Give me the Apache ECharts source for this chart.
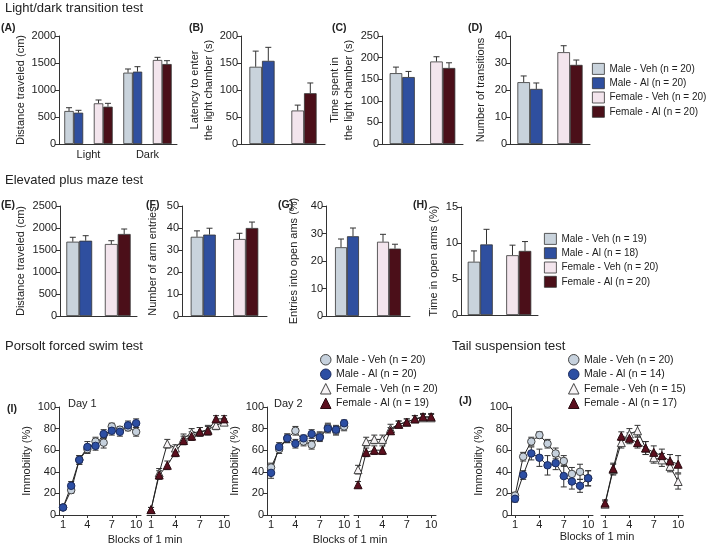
<!DOCTYPE html>
<html><head><meta charset="utf-8">
<script src="https://cdn.jsdelivr.net/npm/echarts@6/dist/echarts.min.js"></script>
<style>html,body{margin:0;padding:0;background:#fff}#c{width:709px;height:547px}</style>
</head><body><div id="c"></div><script>
const FONT = '"Liberation Sans", Arial, Helvetica, sans-serif';

// ---------- legend names ----------
const namesLD  = ['Male - Veh (n = 20)', 'Male - Al (n = 20)', 'Female - Veh (n = 20)', 'Female - Al (n = 20)'];
const namesEPM = ['Male - Veh (n = 19)', 'Male - Al (n = 18)', 'Female - Veh (n = 20)', 'Female - Al (n = 20)'];
const namesFST = ['Male - Veh (n = 20)', 'Male - Al (n = 20)', 'Female - Veh (n = 20)', 'Female - Al (n = 19)'];
const namesTST = ['Male - Veh (n = 20)', 'Male - Al (n = 14)', 'Female - Veh (n = 15)', 'Female - Al (n = 17)'];

// ---------- bar data: order = Male-Veh, Male-Al, Female-Veh, Female-Al ----------
const groupsA = ['Light', 'Dark'];
const A_light = [611, 580, 753, 691];
const A_lightErr = [61, 44, 62, 62];
const A_dark = [1321, 1340, 1556, 1481];
const A_darkErr = [68, 92, 49, 62];
const B_vals = [143, 154, 62, 94];
const B_err = [29, 25, 10, 19];
const C_vals = [164, 155, 191, 176];
const C_err = [14, 13, 11, 12];
const D_vals = [22.9, 20.4, 34.0, 29.3];
const D_err = [2.3, 2.2, 2.4, 1.8];
const E_vals = [1689, 1711, 1636, 1864];
const E_err = [100, 114, 75, 113];
const F_vals = [36, 37, 35, 40];
const F_err = [2.7, 2.9, 2.6, 2.7];
const G_vals = [25, 29, 27, 24.5];
const G_err = [3, 3, 2.7, 1.6];
const H_vals = [7.4, 9.8, 8.3, 8.9];
const H_err = [1.5, 2.1, 1.4, 1.3];

// ---------- line data ----------
const blocks = [1, 2, 3, 4, 5, 6, 7, 8, 9, 10];
const blockTicks = [1, 4, 7, 10];
const FST1_maleVeh = [7, 23, 51, 61, 68, 67, 82, 79, 81, 77];
const FST1_maleVehErr = [2, 3, 4, 4, 4, 5, 3, 3, 3, 4];
const FST1_maleAl = [7, 27, 51, 63, 64, 75, 78, 77, 83, 85];
const FST1_maleAlErr = [2, 4, 4, 5, 4, 4, 4, 4, 4, 4];
const FST1_femVeh = [5, 39, 66, 62, 71, 76, 77, 79, 83, 86];
const FST1_femVehErr = [2, 4, 4, 3, 4, 4, 4, 4, 4, 3];
const FST1_femAl = [5, 37, 46, 58, 69, 73, 77, 78, 89, 89];
const FST1_femAlErr = [2, 4, 4, 4, 4, 4, 4, 4, 3, 3];
const FST2_maleVeh = [44, 61, 71, 78, 68, 65, 73, 81, 78, 82];
const FST2_maleVehErr = [4, 4, 4, 4, 4, 4, 4, 4, 4, 4];
const FST2_maleAl = [39, 63, 71, 66, 71, 75, 72, 80, 79, 85];
const FST2_maleAlErr = [5, 4, 4, 4, 3, 4, 4, 4, 4, 3];
const FST2_femVeh = [42, 68, 70, 70, 80, 84, 86, 89, 90, 90];
const FST2_femVehErr = [4, 4, 4, 4, 4, 3, 3, 3, 3, 3];
const FST2_femAl = [28, 58, 60, 60, 78, 84, 86, 89, 91, 91];
const FST2_femAlErr = [3, 4, 4, 4, 3, 3, 3, 3, 3, 3];
const TST_maleVeh = [18, 54, 68, 74, 66, 57, 50, 38, 40, 34];
const TST_maleVehErr = [3, 4, 4, 3, 4, 5, 5, 6, 7, 7];
const TST_maleAl = [15, 37, 57, 53, 46, 48, 36, 31, 27, 34];
const TST_maleAlErr = [3, 4, 6, 8, 9, 6, 10, 7, 6, 7];
const TST_femVeh = [10, 42, 67, 75, 78, 62, 53, 51, 45, 31];
const TST_femVehErr = [3, 5, 5, 5, 5, 6, 5, 6, 5, 7];
const TST_femAl = [11, 43, 73, 71, 67, 62, 58, 55, 50, 47];
const TST_femAlErr = [3, 5, 4, 5, 5, 6, 6, 6, 6, 8];

// ---------- styles ----------
const barColors = ['#c9d3dc', '#2f4f9f', '#f3e5ed', '#4b0f19'];
const lineSty = [
  {symbol: 'circle', size: 7.5, color: '#c6d1dd', border: '#444'},
  {symbol: 'circle', size: 7.5, color: '#2c4ea3', border: '#1b2b5e'},
  {symbol: 'triangle', size: 8, color: '#f7f3f5', border: '#444'},
  {symbol: 'triangle', size: 8, color: '#5b0f1e', border: '#2a0a10'}
];
const AX = '#333', TXT = '#222';

const grids = [], xAxes = [], yAxes = [], series = [];

function yAxisCfg(gi, max, interval, name, nameGap, show) {
  return {
    type: 'value', gridIndex: gi, min: 0, max: max, interval: interval, show: show !== false,
    name: name, nameLocation: 'middle', nameGap: nameGap, nameRotate: 90,
    nameTextStyle: {fontSize: 11, color: TXT, fontFamily: FONT, lineHeight: 14},
    axisLine: {show: true, lineStyle: {color: AX, width: 1}},
    axisTick: {show: true, length: 4, lineStyle: {color: AX}},
    axisLabel: {fontSize: 11, color: TXT, fontFamily: FONT, margin: 3, formatter: v => String(v)},
    splitLine: {show: false}
  };
}

function barErr(slot, frac) {
  return function (params, api) {
    const x = api.value(0), y = api.value(1), e = api.value(2);
    const p = api.coord([x, y]);
    const t = api.coord([x, y + e]);
    const band = api.size([1, 0])[0];
    const cx = p[0] + slot * band * frac / 4;
    const cap = 3;
    const st = {stroke: '#333', lineWidth: 1};
    return {type: 'group', children: [
      {type: 'line', shape: {x1: cx, y1: p[1], x2: cx, y2: t[1]}, style: st},
      {type: 'line', shape: {x1: cx - cap, y1: t[1], x2: cx + cap, y2: t[1]}, style: st}
    ]};
  };
}

function barPanel(o) {
  const gi = grids.length;
  grids.push({left: o.left, top: o.top, width: o.width, height: o.height, outerBoundsMode: 'none'});
  const nC = o.vals.length;
  const cats = [];
  for (let c = 0; c < nC; c++) cats.push('M' + c, 'F' + c);
  xAxes.push({type: 'category', gridIndex: gi, data: cats, position: 'bottom',
    axisLine: {show: true, lineStyle: {color: AX}}, axisTick: {show: false}, axisLabel: {show: false}, splitLine: {show: false}});
  const xi = xAxes.length - 1;
  if (o.groupLabels) {
    xAxes.push({type: 'category', gridIndex: gi, data: o.groupLabels, position: 'bottom',
      axisLine: {show: false}, axisTick: {show: false},
      axisLabel: {fontSize: 11, color: TXT, fontFamily: FONT, margin: 5}, splitLine: {show: false}});
  }
  yAxes.push(yAxisCfg(gi, o.max, o.interval, o.name, o.nameGap));
  const yi = yAxes.length - 1;
  for (let i = 0; i < 4; i++) {
    const sex = i < 2 ? 0 : 1;
    const data = cats.map(() => '-');
    const edata = [];
    for (let c = 0; c < nC; c++) {
      data[2 * c + sex] = o.vals[c][i];
      edata.push([2 * c + sex, o.vals[c][i], o.errs[c][i]]);
    }
    series.push({type: 'bar', name: o.names[i], xAxisIndex: xi, yAxisIndex: yi,
      stack: 'g' + gi + '_' + (i % 2), data: data, barGap: '0%', barCategoryGap: o.gap * 100 + '%',
      itemStyle: {color: barColors[i], borderColor: '#333', borderWidth: 0.8},
      emphasis: {disabled: true}, silent: true, z: 2});
    series.push({type: 'custom', xAxisIndex: xi, yAxisIndex: yi, data: edata,
      renderItem: barErr(i % 2 === 0 ? -1 : 1, 1 - o.gap), silent: true, z: 1});
  }
}

function lineErr(params, api) {
  const x = api.value(0), y = api.value(1), e = api.value(2);
  const lo = api.coord([x, y - e]), hi = api.coord([x, y + e]);
  const cap = 3, st = {stroke: '#333', lineWidth: 1};
  return {type: 'group', children: [
    {type: 'line', shape: {x1: lo[0], y1: lo[1], x2: hi[0], y2: hi[1]}, style: st},
    {type: 'line', shape: {x1: lo[0] - cap, y1: lo[1], x2: lo[0] + cap, y2: lo[1]}, style: st},
    {type: 'line', shape: {x1: hi[0] - cap, y1: hi[1], x2: hi[0] + cap, y2: hi[1]}, style: st}
  ]};
}

function linePanel(o) {
  const gi = grids.length;
  grids.push({left: o.left, top: 407, width: 82, height: 108, outerBoundsMode: 'none'});
  xAxes.push({type: 'value', gridIndex: gi, min: 0.5, max: 10.6,
    axisLine: {show: true, lineStyle: {color: AX}},
    axisTick: {show: true, length: 3, customValues: blockTicks, lineStyle: {color: AX}},
    axisLabel: {customValues: blockTicks, fontSize: 11, color: TXT, fontFamily: FONT, margin: 4},
    splitLine: {show: false}});
  const xi = xAxes.length - 1;
  yAxes.push(yAxisCfg(gi, 100, 20, o.showY ? 'Immobility (%)' : '', 23, o.showY));
  const yi = yAxes.length - 1;
  o.groups.forEach((g) => {
    series.push({type: 'custom', xAxisIndex: xi, yAxisIndex: yi, silent: true, z: 2,
      data: blocks.map((b, j) => [b, g.vals[j], g.errs[j]]), renderItem: lineErr});
  });
  o.groups.forEach((g, k) => {
    const i = o.idx[k];
    const s = lineSty[i];
    series.push({type: 'line', name: o.names[i], xAxisIndex: xi, yAxisIndex: yi, z: 3,
      data: blocks.map((b, j) => [b, g.vals[j]]),
      symbol: s.symbol, symbolSize: s.size, showAllSymbol: true,
      lineStyle: {color: '#222', width: 1},
      itemStyle: {color: s.color, borderColor: s.border, borderWidth: 1},
      emphasis: {disabled: true}, silent: true, animation: false});
  });
}

// ---------- row 1 ----------
barPanel({left: 59, top: 36, width: 118, height: 108, vals: [A_light, A_dark], errs: [A_lightErr, A_darkErr],
  max: 2000, interval: 500, name: 'Distance traveled (cm)', nameGap: 30, names: namesLD, gap: 0.36, groupLabels: groupsA});
barPanel({left: 241, top: 36, width: 84, height: 108, vals: [B_vals], errs: [B_err],
  max: 200, interval: 50, name: 'Latency to enter\nthe light chamber (s)', nameGap: 25, names: namesLD, gap: 0.40});
barPanel({left: 382, top: 36, width: 81, height: 108, vals: [C_vals], errs: [C_err],
  max: 250, interval: 50, name: 'Time spent in\nthe light chamber (s)', nameGap: 26, names: namesLD, gap: 0.38});
barPanel({left: 510, top: 36, width: 80, height: 108, vals: [D_vals], errs: [D_err],
  max: 40, interval: 10, name: 'Number of transitions', nameGap: 22, names: namesLD, gap: 0.37});
// ---------- row 2 ----------
barPanel({left: 60, top: 206, width: 77, height: 110, vals: [E_vals], errs: [E_err],
  max: 2500, interval: 500, name: 'Distance traveled (cm)', nameGap: 32, names: namesEPM, gap: 0.33});
barPanel({left: 182, top: 206, width: 85, height: 110, vals: [F_vals], errs: [F_err],
  max: 50, interval: 10, name: 'Number of arm entries', nameGap: 22, names: namesEPM, gap: 0.41});
barPanel({left: 326, top: 206, width: 84, height: 110, vals: [G_vals], errs: [G_err],
  max: 40, interval: 10, name: 'Entries into open ams (%)', nameGap: 25, names: namesEPM, gap: 0.43});
barPanel({left: 461, top: 207, width: 77, height: 108, vals: [H_vals], errs: [H_err],
  max: 15, interval: 5, name: 'Time in open arms (%)', nameGap: 20, names: namesEPM, gap: 0.35});
// ---------- row 3 ----------
linePanel({left: 59, showY: true, names: namesFST, idx: [0, 1],
  groups: [{vals: FST1_maleVeh, errs: FST1_maleVehErr}, {vals: FST1_maleAl, errs: FST1_maleAlErr}]});
linePanel({left: 147, showY: false, names: namesFST, idx: [2, 3],
  groups: [{vals: FST1_femVeh, errs: FST1_femVehErr}, {vals: FST1_femAl, errs: FST1_femAlErr}]});
linePanel({left: 267, showY: true, names: namesFST, idx: [0, 1],
  groups: [{vals: FST2_maleVeh, errs: FST2_maleVehErr}, {vals: FST2_maleAl, errs: FST2_maleAlErr}]});
linePanel({left: 354, showY: false, names: namesFST, idx: [2, 3],
  groups: [{vals: FST2_femVeh, errs: FST2_femVehErr}, {vals: FST2_femAl, errs: FST2_femAlErr}]});
linePanel({left: 511, showY: true, names: namesTST, idx: [0, 1],
  groups: [{vals: TST_maleVeh, errs: TST_maleVehErr}, {vals: TST_maleAl, errs: TST_maleAlErr}]});
linePanel({left: 601, showY: false, names: namesTST, idx: [2, 3],
  groups: [{vals: TST_femVeh, errs: TST_femVehErr}, {vals: TST_femAl, errs: TST_femAlErr}]});

// ---------- legends ----------
function barLegend(names, left, top) {
  return {left: left, top: top, orient: 'vertical', padding: 0, itemGap: 2.5, itemWidth: 12, itemHeight: 11,
    selectedMode: false, textStyle: {fontSize: 10, color: TXT, fontFamily: FONT},
    data: names.map((n, i) => ({name: n, icon: 'rect',
      itemStyle: {color: barColors[i], borderColor: '#333', borderWidth: 0.8}}))};
}
function lineLegend(names, left, top) {
  return {left: left, top: top, orient: 'vertical', padding: 0, itemGap: 3, itemWidth: 10.5, itemHeight: 10.5,
    selectedMode: false, textStyle: {fontSize: 10.5, color: TXT, fontFamily: FONT},
    lineStyle: {opacity: 0, width: 0},
    data: names.map((n, i) => ({name: n, icon: lineSty[i].symbol,
      itemStyle: {color: lineSty[i].color, borderColor: lineSty[i].border, borderWidth: 1}, lineStyle: {opacity: 0, width: 0}}))};
}

// ---------- texts ----------
function txt(text, x, y, size, bold) {
  return {type: 'text', x: x, y: y, silent: true,
    style: {text: text, fontSize: size, fontWeight: bold ? 'bold' : 'normal', fontFamily: FONT, fill: TXT, verticalAlign: 'middle', align: 'left'}};
}
function ctxt(text, x, y, size) {
  return {type: 'text', x: x, y: y, silent: true,
    style: {text: text, fontSize: size, fontFamily: FONT, fill: TXT, verticalAlign: 'middle', align: 'center'}};
}
const graphics = [
  txt('Light/dark transition test', 5, 8, 13),
  txt('Elevated plus maze test', 5, 180, 13),
  txt('Porsolt forced swim test', 5, 346, 13),
  txt('Tail suspension test', 452, 346, 13),
  txt('(A)', 1, 28, 10.5, true), txt('(B)', 189, 28, 10.5, true), txt('(C)', 332, 28, 10.5, true), txt('(D)', 468, 28, 10.5, true),
  txt('(E)', 1, 205, 10.5, true), txt('(F)', 146, 205, 10.5, true), txt('(G)', 278, 205, 10.5, true), txt('(H)', 413, 205, 10.5, true),
  txt('(I)', 7, 409, 10.5, true), txt('(J)', 459, 401, 10.5, true),
  txt('Day 1', 68, 404, 11), txt('Day 2', 274, 404, 11),
  ctxt('Blocks of 1 min', 145, 540, 11), ctxt('Blocks of 1 min', 350, 540, 11), ctxt('Blocks of 1 min', 597, 537, 11)
];

const chart = echarts.init(document.getElementById('c'), null, {renderer: 'canvas'});
chart.setOption({
  backgroundColor: '#fff',
  animation: false,
  textStyle: {fontFamily: FONT},
  grid: grids, xAxis: xAxes, yAxis: yAxes, series: series,
  legend: [barLegend(namesLD, 592, 63), barLegend(namesEPM, 544, 233),
           lineLegend(namesFST, 320, 354), lineLegend(namesTST, 568, 354)],
  graphic: graphics
});
</script></body></html>
